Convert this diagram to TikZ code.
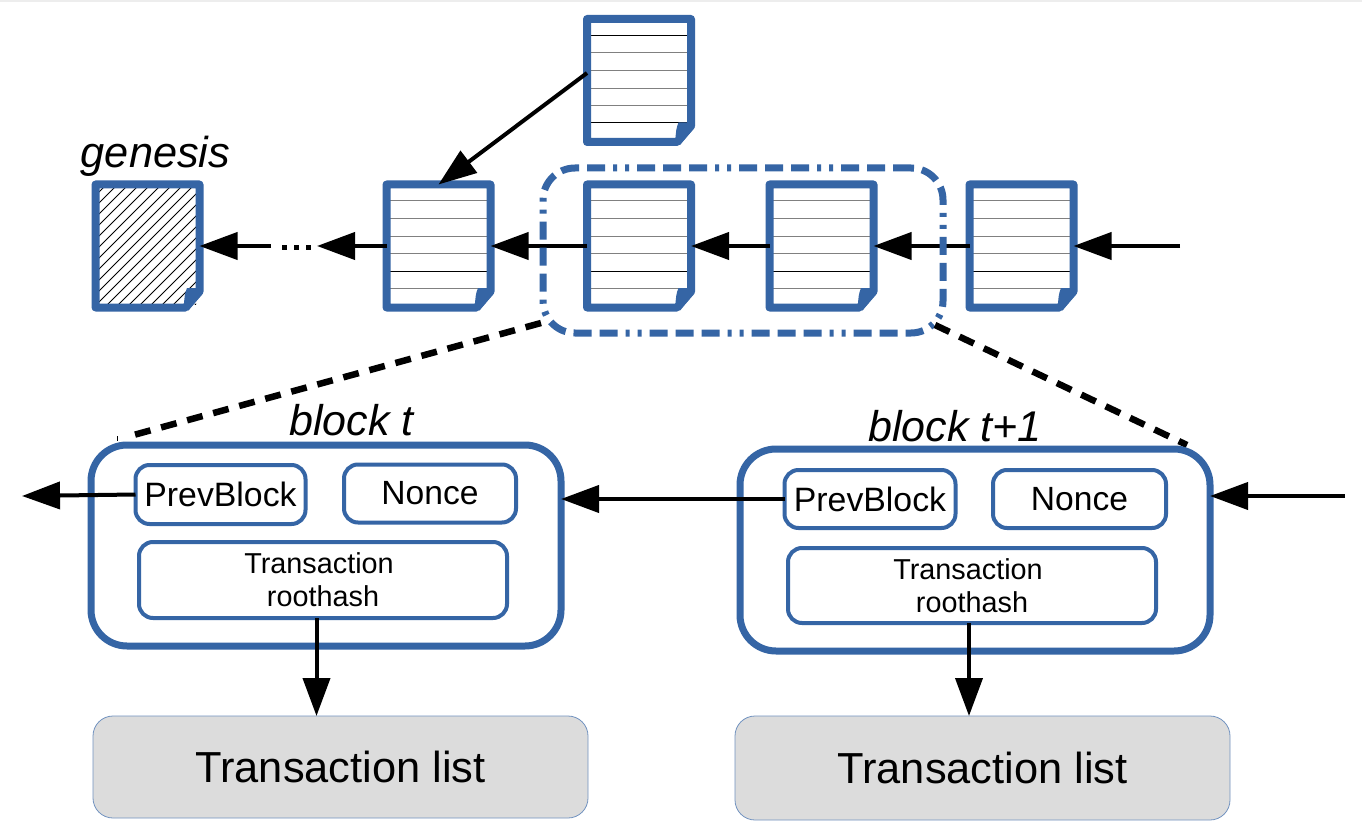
\documentclass[tikz,border=0pt]{standalone}
\usepackage{fontspec}
\setmainfont{Liberation Sans}
\usetikzlibrary{arrows.meta,calc}
\definecolor{bblue}{HTML}{3565A5}
\definecolor{lgray}{HTML}{DCDCDC}
\definecolor{rule}{HTML}{808080}
\newcommand{\fsz}[1]{\fontsize{#1}{#1}\selectfont}
\tikzset{
  x=1pt,y=-1pt,
  docnode/.style={inner sep=0,outer sep=0,minimum width=104pt,minimum height=123pt},
  conn/.style={line width=4pt,-{Triangle[length=38pt,width=27pt]}},
  link/.style={dash pattern=on 16pt off 11pt,line width=6.5pt,black},
  outer/.style={draw=bblue,line width=7pt,rounded corners=36pt,fill=white,inner sep=0,outer sep=0},
  inner/.style={draw=bblue,line width=4pt,rounded corners=14pt,fill=white,inner sep=0,outer sep=0,align=center},
  listbox/.style={draw=bblue!70,line width=.8pt,fill=lgray,rounded corners=20pt,inner sep=0,outer sep=0},
  frame/.style={draw=bblue,line width=7pt,rounded corners=32pt,inner sep=0,outer sep=0,
    dash pattern=on 18pt off 8pt on 18pt off 8pt on 18pt off 8pt on 4pt off 8pt on 4pt off 8pt},
}
% name, centre x, centre y, contents
\newcommand{\docicon}[4]{%
  \node[docnode] (#1) at (#2,#3) {};
  \begin{scope}[shift={(#1.north west)}]
    \fill[white] (0,0) rectangle (104,123);
    #4
  \end{scope}
  \draw[bblue,line width=8pt,line join=round] (#1.north west) -- (#1.north east) -- ++(0,107) -- ++(-14,16) -- (#1.south west) -- cycle;
  \begin{scope}[shift={(#1.south east)}]
    \fill[bblue] (-12.5,-19.5) .. controls (-15,-14) and (-15,-9) .. (-15.5,-4.5) -- (-11,3) -- (3.5,-14.5) -- (0,-19.5) -- cycle;
  \end{scope}}
\newcommand{\ruled}[6]{%
  \foreach \yy/\cc in {16.5/#1,34/#2,52/#3,69.5/#4,87/#5,104/#6}{\draw[\cc,line width=1pt] (3.5,\yy) -- (100.5,\yy);}}
\begin{document}
\begin{tikzpicture}
\useasboundingbox (0,0) rectangle (1362,834);
\fill[white] (0,0) rectangle (1362,834);
\fill[black!7] (0,0) rectangle (1362,2);

% documents
\docicon{top}{639}{80.5}{\ruled{black}{rule}{rule}{rule}{rule}{black}}
\docicon{gen}{147.5}{246}{%
  \begin{scope}
    \clip (3.5,3.5) rectangle (100.5,119.5);
    \foreach \k in {0,...,20}{\draw[black,line width=1pt] (\k*11,0) -- ++(-125,125);}
  \end{scope}}
\docicon{prev}{438.5}{246}{\ruled{rule}{rule}{rule}{rule}{black}{rule}}
\docicon{dt}{639}{246}{\ruled{rule}{rule}{rule}{rule}{black}{rule}}
\docicon{dtt}{821.5}{246}{\ruled{rule}{rule}{rule}{rule}{black}{rule}}
\docicon{next}{1021.5}{246}{\ruled{rule}{rule}{rule}{rule}{black}{rule}}

\node[anchor=base,inner sep=0,font=\fsz{43.3}\itshape] (gl) at (155.5,168) {genesis};

% upper chain
\coordinate (hidden) at (1180,246);
\coordinate (d1) at (271,246);
\coordinate (d2) at (317,246);
\coordinate (g1) at (282,248);
\coordinate (g2) at (311,248);
\draw[conn] (d1) -- (gen.east);
\draw[black,line width=5pt,dash pattern=on 5pt off 7pt] (g1) -- (g2);
\draw[conn] (prev.west) -- (d2);
\draw[conn] (dt.west) -- (prev.east);
\draw[conn] (dtt.west) -- (dt.east);
\draw[conn] (next.west) -- (dtt.east);
\draw[conn] (hidden) -- (next.east);
\coordinate (topout) at ($(top.north west)+(0,54)$);
\draw[conn] (topout) -- (prev.north);

% frame
\node[frame,minimum width=400pt,minimum height=165pt] (fr) at (743,250.5) {};

% dashed links
\coordinate (fa) at (541,323);
\coordinate (fb) at (935,325);
\coordinate (ba) at (130,436);
\coordinate (bb) at (1187,445);
\draw[link] (fa) -- (ba);
\draw[link] (fb) -- (bb);
\coordinate (ta) at (117.5,436);
\coordinate (tb) at (117.5,441);
\draw[black,line width=.7pt] (ta) -- (tb);

% block t
\node[anchor=base,inner sep=0,font=\fsz{43}\itshape] (lt) at (351.5,435) {block t};
\node[outer,minimum width=470pt,minimum height=201pt] (bt) at (326,545.5) {};
\node[inner,minimum width=170pt,minimum height=59pt,font=\fsz{33.8}] (pt) at (220.5,494.5) {PrevBlock};
\node[inner,minimum width=172pt,minimum height=58pt,font=\fsz{33.6}] (nt) at (430,493.5) {Nonce};
\node[inner,minimum width=368pt,minimum height=76pt,font=\fsz{28.8}] (rt) at (323,580) {\mbox{Transaction\kern8pt}\\[4.5pt]roothash};
\node[listbox,minimum width=495pt,minimum height=102pt,font=\fsz{43.4}] (lst) at (340.5,767) {Transaction list};

% block t+1
\node[anchor=base,inner sep=0,font=\fsz{43}\itshape] (ltt) at (955,441) {block t+1};
\node[outer,minimum width=470pt,minimum height=202pt] (btt) at (975,550) {};
\node[inner,minimum width=171pt,minimum height=58pt,font=\fsz{33.8}] (ptt) at (870,499) {PrevBlock};
\node[inner,minimum width=173pt,minimum height=58pt,font=\fsz{33.6}] (ntt) at (1079.5,499) {Nonce};
\node[inner,minimum width=368pt,minimum height=75pt,font=\fsz{28.8}] (rtt) at (972,585.5) {\mbox{Transaction\kern8pt}\\[4.5pt]roothash};
\node[listbox,minimum width=495pt,minimum height=104pt,font=\fsz{43.4}] (lstt) at (982.5,768) {Transaction list};

% lower connectors
\coordinate (ol) at (22,496);
\coordinate (or) at (1345,496);
\draw[conn] (pt.west) -- (ol);
\draw[conn] (ptt.west) -- (ptt.west -| bt.east);
\draw[conn] (or) -- (or -| btt.east);
\coordinate (hash1) at (316.5,0);
\coordinate (hash2) at (969,0);
\draw[conn] (hash1 |- rt.south) -- (hash1 |- lst.north);
\draw[conn] (hash2 |- rtt.south) -- (hash2 |- lstt.north);
\end{tikzpicture}
\end{document}
